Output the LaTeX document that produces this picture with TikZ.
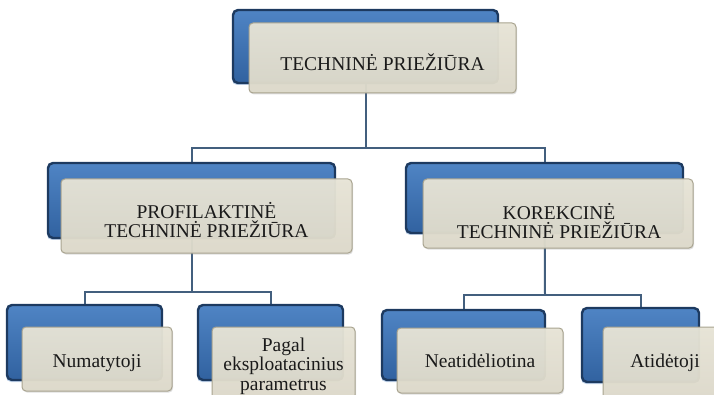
\documentclass[tikz,border=0pt]{standalone}
\usepackage{fontspec}
\setmainfont{Liberation Serif}
\usetikzlibrary{shadows,backgrounds}
\definecolor{bluedark}{HTML}{1D3A60}
\definecolor{bluetop}{HTML}{4F84C4}
\definecolor{bluebot}{HTML}{3162A0}
\definecolor{beigefill}{HTML}{DEDACA}
\definecolor{beigetop}{HTML}{E8E5D7}
\definecolor{beigeline}{HTML}{A8A38F}
\definecolor{connline}{HTML}{435F7E}
\definecolor{txt}{HTML}{1A1A1A}
\begin{document}
\begin{tikzpicture}[x=1pt,y=-1pt,
  bluebox/.style={draw=bluedark,line width=2.4pt,rounded corners=5pt,
    top color=bluetop,bottom color=bluebot,inner sep=0pt,
    drop shadow={opacity=0.35,shadow xshift=-1pt,shadow yshift=-2pt,fill=bluetop}},
  beigebox/.style={draw=beigeline,line width=1pt,rounded corners=4pt,
    top color=beigetop,bottom color=beigefill,fill opacity=0.95,inner sep=0pt,
    drop shadow={opacity=0.25,shadow xshift=1pt,shadow yshift=-1.5pt}},
  lbl/.style={text=txt,font=\fontsize{19.5}{19.5}\selectfont,align=center,inner sep=0pt},
  conn/.style={draw=connline,line width=2pt}]
\useasboundingbox (0,0) rectangle (714,395);
% blue back boxes
\node[bluebox,minimum width=265pt,minimum height=73pt] (tb) at (365.5,46.5) {};
\node[bluebox,minimum width=287pt,minimum height=75pt] (mlb) at (191.5,200.5) {};
\node[bluebox,minimum width=277pt,minimum height=70pt] (mrb) at (544.5,198) {};
\node[bluebox,minimum width=155pt,minimum height=75pt] (b1b) at (84.5,342.5) {};
\node[bluebox,minimum width=145pt,minimum height=75pt] (b2b) at (270.5,342.5) {};
\node[bluebox,minimum width=163pt,minimum height=70pt] (b3b) at (463.5,345) {};
\node[bluebox,minimum width=117pt,minimum height=74pt] (b4b) at (640.5,345) {};
% beige front boxes
\node[beigebox,minimum width=267pt,minimum height=70pt] (tf) at (382.5,58) {};
\node[beigebox,minimum width=291pt,minimum height=74pt] (mlf) at (206.5,216) {};
\node[beigebox,minimum width=270pt,minimum height=69pt] (mrf) at (558,213.5) {};
\node[beigebox,minimum width=150pt,minimum height=64pt] (b1f) at (97,359) {};
\node[beigebox,minimum width=143pt,minimum height=72pt] (b2f) at (283.5,363) {};
\node[beigebox,minimum width=166pt,minimum height=65pt] (b3f) at (480,360.5) {};
\node[beigebox,minimum width=127pt,minimum height=76pt] (b4f) at (666.5,365) {};
% texts
\node[lbl,anchor=base] (tt) at (382.5,71) {TECHNINĖ PRIEŽIŪRA};
\node[lbl] (mlt) at (206.5,220) {PROFILAKTINĖ\\TECHNINĖ PRIEŽIŪRA};
\node[lbl] (mrt) at (559,221) {KOREKCINĖ\\TECHNINĖ PRIEŽIŪRA};
\node[lbl,anchor=base] (b1t) at (97,367) {Numatytoji};
\node[lbl] (b2t) at (283.5,366) {Pagal\\eksploatacinius\\parametrus};
\node[lbl,anchor=base] (b3t) at (480,367) {Neatidėliotina};
\node[lbl,anchor=base] (b4t) at (665,367) {Atidėtoji};
% connectors
\coordinate (j1) at (366,148);
\coordinate (j2) at (191.5,292);
\coordinate (j3) at (545,295);
\begin{scope}[on background layer]
\draw[conn] (tb.center) -- (tb.center |- j1);
\draw[conn] (mlb.north) |- (j1) -| (mrb.north);
\draw[conn] (mlb.center) -- (j2);
\draw[conn] (b1b.north) |- (j2) -| (b2b.north);
\draw[conn] (mrb.center) -- (j3);
\draw[conn] (b3b.north) |- (j3) -| (b4b.north);
\end{scope}
\end{tikzpicture}
\end{document}
